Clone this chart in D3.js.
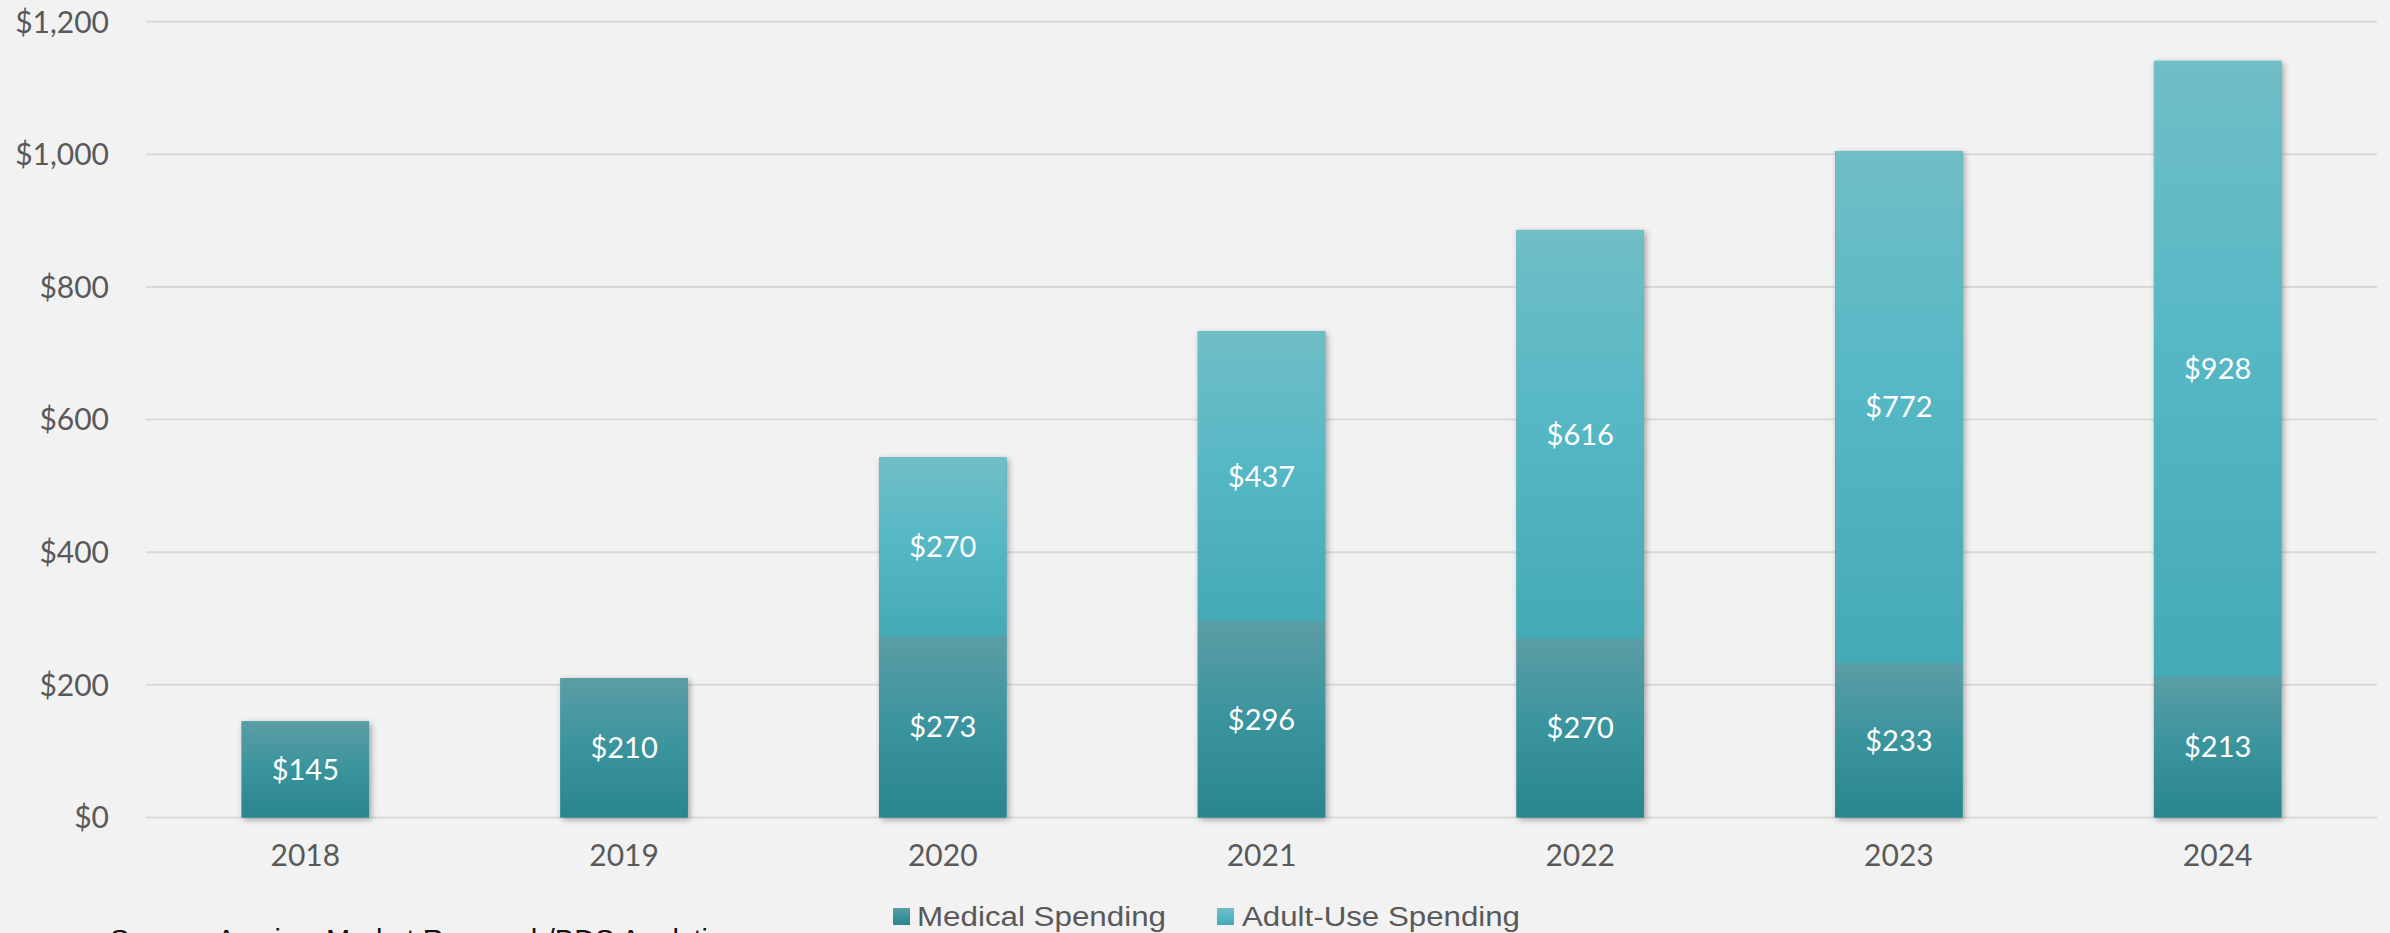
<!DOCTYPE html>
<html><head><meta charset="utf-8">
<script src="https://cdn.jsdelivr.net/npm/d3@7"></script>
<style>
html,body{margin:0;padding:0;background:#f2f2f2;overflow:hidden;}
svg{display:block;}
</style></head>
<body>
<svg id="chart" width="2390" height="933"></svg>
<script>
const years = ["2018","2019","2020","2021","2022","2023","2024"];
const medical = [145, 210, 273, 296, 270, 233, 213];
const adultUse = [0, 0, 270, 437, 616, 772, 928];
const yTicks = [0, 200, 400, 600, 800, 1000, 1200];
const seriesNames = ["Medical Spending", "Adult-Use Spending"];

const W = 2390, H = 933;
const svg = d3.select("#chart");
svg.append("rect").attr("width", W).attr("height", H).attr("fill", "#f2f2f2");

const defs = svg.append("defs");
const gMed = defs.append("linearGradient").attr("id","gMed").attr("x1",0).attr("y1",0).attr("x2",0).attr("y2",1);
gMed.append("stop").attr("offset","0%").attr("stop-color","#5b9da5");
gMed.append("stop").attr("offset","50%").attr("stop-color","#3a949d");
gMed.append("stop").attr("offset","100%").attr("stop-color","#29858e");
const gAdu = defs.append("linearGradient").attr("id","gAdu").attr("x1",0).attr("y1",0).attr("x2",0).attr("y2",1);
gAdu.append("stop").attr("offset","0%").attr("stop-color","#70bec6");
gAdu.append("stop").attr("offset","45%").attr("stop-color","#56b8c5");
gAdu.append("stop").attr("offset","100%").attr("stop-color","#44aab6");
const shadow = defs.append("filter").attr("id","shadow").attr("x","-20%").attr("y","-20%").attr("width","140%").attr("height","140%");
shadow.append("feDropShadow").attr("dx",2).attr("dy",2).attr("stdDeviation",3).attr("flood-color","#000").attr("flood-opacity",0.35);

const x = d3.scaleBand().domain(years).range([146, 2377]).paddingInner(0.6).paddingOuter(0.3);
const y = d3.scaleLinear().domain([0, 1200]).range([817.5, 21.7]);

const font = "Lato, 'Open Sans', sans-serif";

// gridlines
svg.append("g").selectAll("line").data(yTicks).join("line")
  .attr("x1", 146).attr("x2", 2377)
  .attr("y1", d => y(d)).attr("y2", d => y(d))
  .attr("stroke", "#d9d9d9").attr("stroke-width", 2);

// y labels
svg.append("g").selectAll("text").data(yTicks).join("text")
  .attr("x", 109).attr("y", d => y(d)).attr("dy", "0.36em")
  .attr("text-anchor", "end").attr("font-family", font).attr("font-size", 30)
  .attr("fill", "#595959")
  .text(d => "$" + d3.format(",")(d));

// x labels
svg.append("g").selectAll("text").data(years).join("text")
  .attr("x", d => x(d) + x.bandwidth()/2).attr("y", 855).attr("dy", "0.36em")
  .attr("text-anchor", "middle").attr("font-family", font).attr("font-size", 30)
  .attr("fill", "#595959").text(d => d);

const data = years.map((yr, i) => ({year: yr, med: medical[i], adu: adultUse[i]}));

// bars
const bars = svg.append("g");
bars.selectAll("rect.total").data(data).join("rect")
  .attr("x", d => x(d.year)).attr("width", x.bandwidth())
  .attr("y", d => y(d.med + d.adu)).attr("height", d => y(0) - y(d.med + d.adu))
  .attr("fill", "#3a949d").attr("filter", "url(#shadow)");
bars.selectAll("rect.med").data(data).join("rect")
  .attr("x", d => x(d.year)).attr("width", x.bandwidth())
  .attr("y", d => y(d.med)).attr("height", d => y(0) - y(d.med))
  .attr("fill", "url(#gMed)");
bars.selectAll("rect.adu").data(data.filter(d => d.adu > 0)).join("rect")
  .attr("x", d => x(d.year)).attr("width", x.bandwidth())
  .attr("y", d => y(d.med + d.adu)).attr("height", d => y(d.med) - y(d.med + d.adu))
  .attr("fill", "url(#gAdu)");

// value labels
const lab = svg.append("g").attr("font-family", font).attr("font-size", 29).attr("fill", "#ffffff").attr("text-anchor", "middle");
lab.selectAll("text.m").data(data).join("text")
  .attr("x", d => x(d.year) + x.bandwidth()/2)
  .attr("y", d => (y(0) + y(d.med))/2).attr("dy", "0.36em")
  .text(d => "$" + d.med);
lab.selectAll("text.a").data(data.filter(d => d.adu > 0)).join("text")
  .attr("x", d => x(d.year) + x.bandwidth()/2)
  .attr("y", d => (y(d.med) + y(d.med + d.adu))/2).attr("dy", "0.36em")
  .text(d => "$" + d.adu);

// legend
const legend = svg.append("g");
const legItems = [
  {name: seriesNames[0], fill: "url(#gMed)", sx: 893, tx: 917, tw: 249},
  {name: seriesNames[1], fill: "url(#gAdu)", sx: 1217, tx: 1242, tw: 278}
];
legItems.forEach(it => {
  legend.append("rect").attr("x", it.sx).attr("y", 908).attr("width", 17).attr("height", 17).attr("fill", it.fill);
  legend.append("text").attr("x", it.tx).attr("y", 926)
    .attr("font-family", "'Liberation Sans', Arial, sans-serif").attr("font-size", 27)
    .attr("fill", "#595959").attr("textLength", it.tw).attr("lengthAdjust", "spacingAndGlyphs")
    .text(it.name);
});

// source
svg.append("text").attr("x", 110).attr("y", 950)
  .attr("font-family", "'Liberation Sans', Arial, sans-serif").attr("font-size", 29)
  .attr("fill", "#111").text("Source: Arcview Market Research/BDS Analytics");
</script>
</body></html>
